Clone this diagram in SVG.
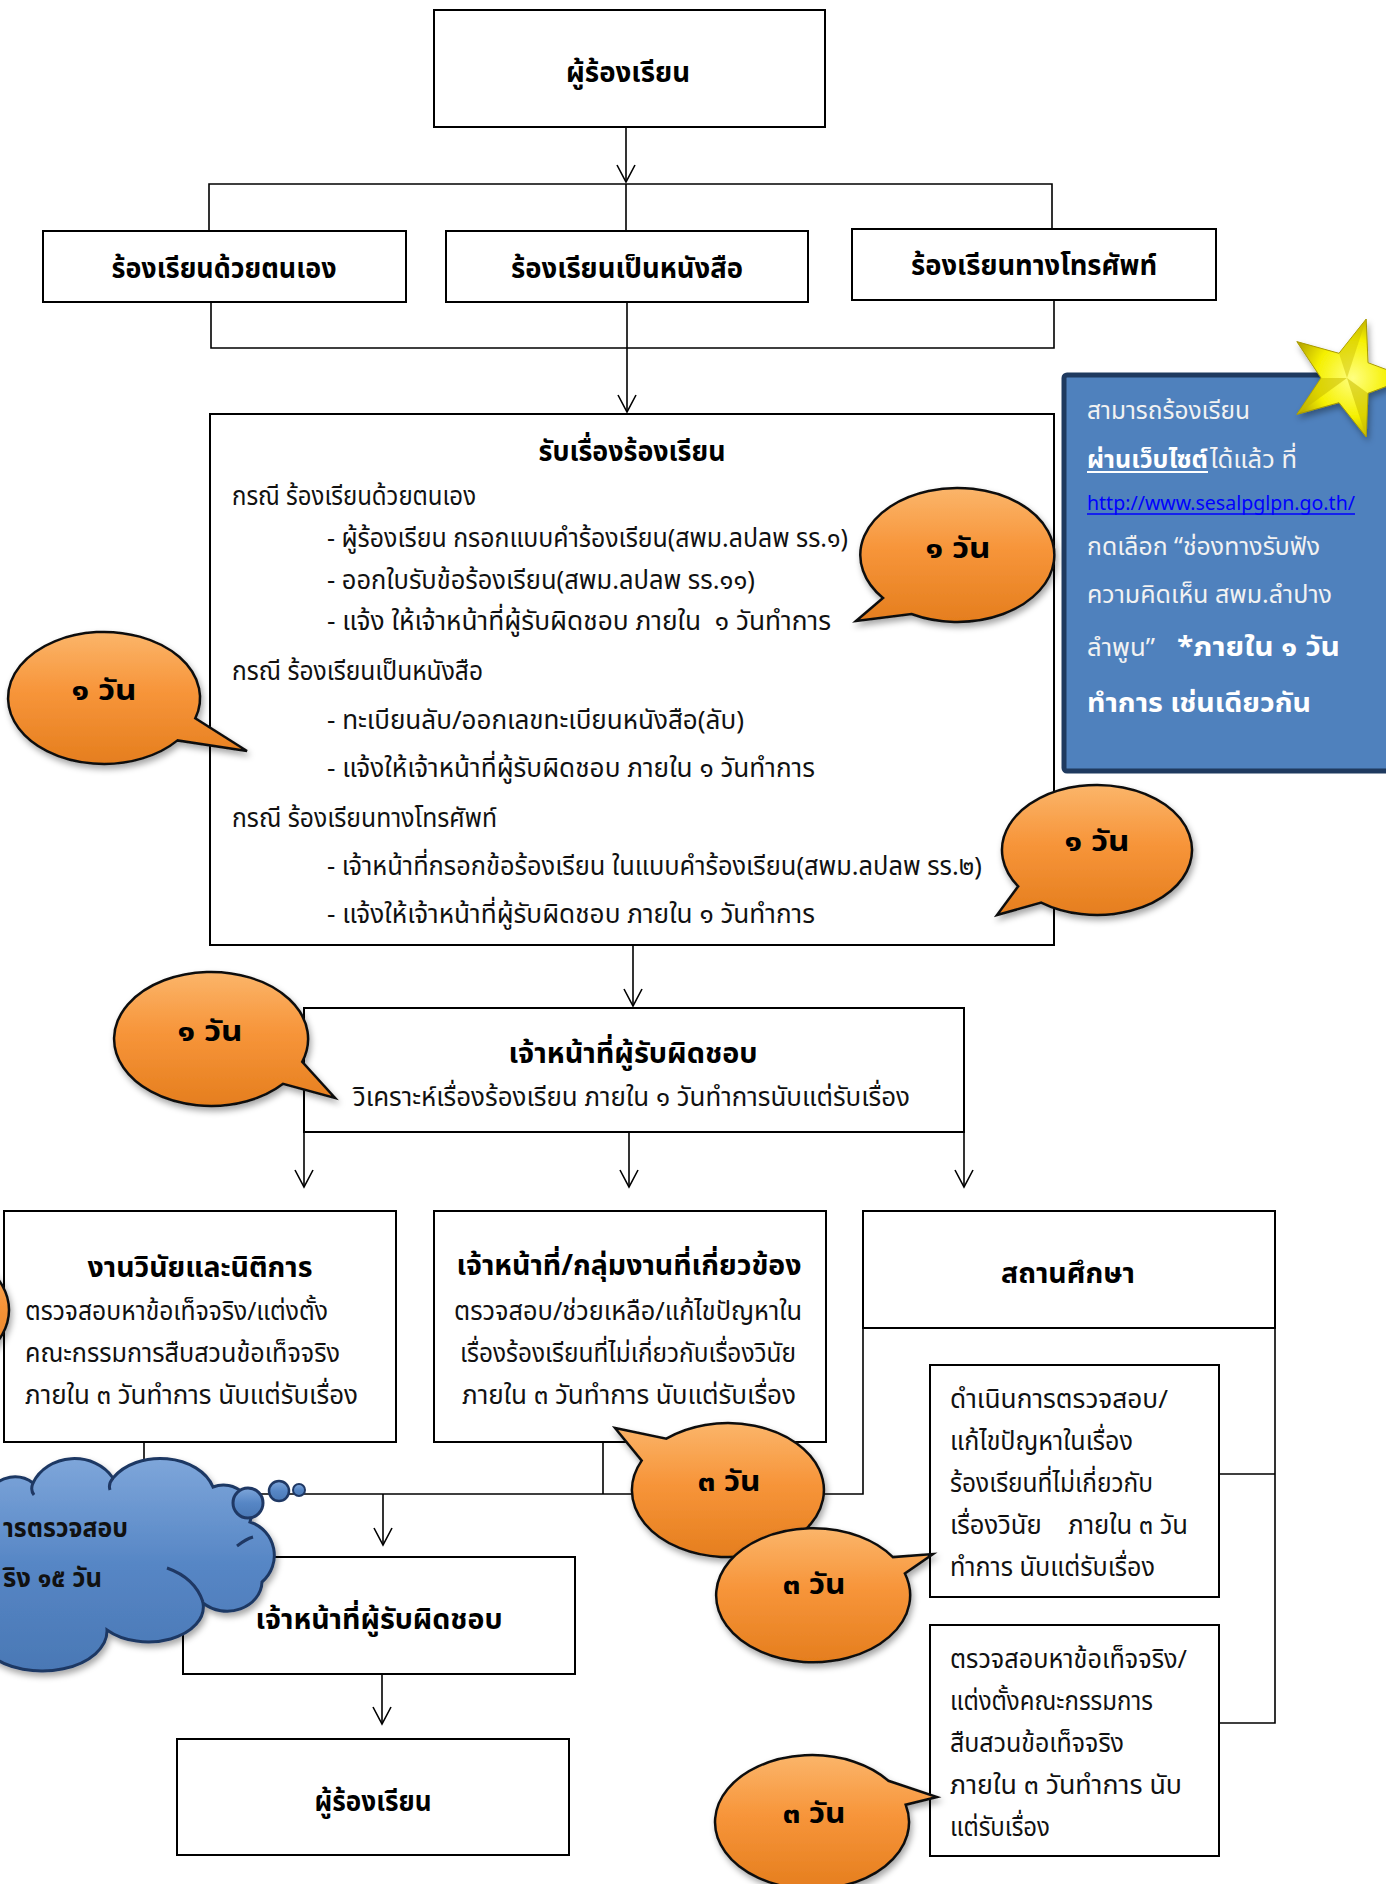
<svg xmlns="http://www.w3.org/2000/svg" width="1386" height="1884" viewBox="0 0 1386 1884">
<defs>
<style>
.bx{fill:#fff;stroke:#000;stroke-width:2}
.ln{fill:none;stroke:#000;stroke-width:1.6}
.ar{fill:none;stroke:#000;stroke-width:1.6;marker-end:url(#v)}
text{font-family:'Noto Sans Thai','Noto Sans','DejaVu Sans',sans-serif;fill:#111}
.h{font-weight:bold;font-size:28px;text-anchor:middle;fill:#000}
.n{font-size:26px}
.c{text-anchor:middle}
.pre{white-space:pre}
.bub{fill:url(#og);stroke:#111;stroke-width:2.5;filter:url(#sh)}
.bt{font-weight:bold;font-size:28px;text-anchor:middle;fill:#000}
.wt{fill:#F2F2F2;font-size:25px}
.wb{fill:#FFFFFF;font-size:27px;font-weight:bold}
</style>
<marker id="v" markerUnits="userSpaceOnUse" markerWidth="22" markerHeight="22" viewBox="0 0 22 22" refX="18" refY="11" orient="auto">
<path d="M1,2 L18,11 L1,20" fill="none" stroke="#000" stroke-width="1.6"/>
</marker>
<linearGradient id="og" x1="0" y1="0" x2="0" y2="1">
<stop offset="0" stop-color="#FBB56A"/>
<stop offset="0.45" stop-color="#F7953A"/>
<stop offset="1" stop-color="#E57E1E"/>
</linearGradient>
<linearGradient id="cg" x1="0" y1="0" x2="0" y2="1">
<stop offset="0" stop-color="#7EA6DA"/>
<stop offset="0.5" stop-color="#5686C5"/>
<stop offset="1" stop-color="#4A78B5"/>
</linearGradient>
<radialGradient id="sg" cx="50%" cy="50%" r="55%">
<stop offset="0" stop-color="#FFFF80"/>
<stop offset="0.6" stop-color="#F5F000"/>
<stop offset="1" stop-color="#B8A800"/>
</radialGradient>
<filter id="sh" x="-20%" y="-20%" width="150%" height="160%">
<feDropShadow dx="2" dy="4" stdDeviation="3" flood-color="#000" flood-opacity="0.35"/>
</filter>
</defs>
<rect width="1386" height="1884" fill="#fff"/>

<g id="connectors">
<path class="ar" d="M626,127 V182"/>
<path class="ln" d="M209,231 V184 H1052 V229 M626,184 V231"/>
<path class="ln" d="M211,302 V348 H1054 V300"/>
<path class="ar" d="M627,302 V412"/>
<path class="ar" d="M633,945 V1006"/>
<path class="ar" d="M304,1131 V1187"/>
<path class="ar" d="M629,1132 V1187"/>
<path class="ar" d="M964,1131 V1187"/>
<path class="ln" d="M144,1442 V1494 H863 V1328 M603,1442 V1494"/>
<path class="ar" d="M383,1494 V1545"/>
<path class="ln" d="M1275,1328 V1723 H1219 M1219,1474 H1275"/>
<path class="ar" d="M382,1674 V1724"/>
</g>

<g id="n-top">
<rect class="bx" x="434" y="10" width="391" height="117"/>
<text class="h" x="628" y="82" textLength="124" lengthAdjust="spacingAndGlyphs">ผู้ร้องเรียน</text>
</g>
<g id="n-self">
<rect class="bx" x="43" y="231" width="363" height="71"/>
<text class="h" x="224" y="278" textLength="225" lengthAdjust="spacingAndGlyphs">ร้องเรียนด้วยตนเอง</text>
</g>
<g id="n-letter">
<rect class="bx" x="446" y="231" width="362" height="71"/>
<text class="h" x="627" y="278" textLength="232" lengthAdjust="spacingAndGlyphs">ร้องเรียนเป็นหนังสือ</text>
</g>
<g id="n-phone">
<rect class="bx" x="852" y="229" width="364" height="71"/>
<text class="h" x="1034" y="275" textLength="246" lengthAdjust="spacingAndGlyphs">ร้องเรียนทางโทรศัพท์</text>
</g>

<g id="n-receive">
<rect class="bx" x="210" y="414" width="844" height="531"/>
<text class="h" x="632" y="461" textLength="187" lengthAdjust="spacingAndGlyphs">รับเรื่องร้องเรียน</text>
<text class="n" x="232" y="505" textLength="244" lengthAdjust="spacingAndGlyphs">กรณี ร้องเรียนด้วยตนเอง</text>
<text class="n" x="327" y="547" textLength="521" lengthAdjust="spacingAndGlyphs">- ผู้ร้องเรียน กรอกแบบคำร้องเรียน(สพม.ลปลพ รร.๑)</text>
<text class="n" x="327" y="589" textLength="428" lengthAdjust="spacingAndGlyphs">- ออกใบรับข้อร้องเรียน(สพม.ลปลพ รร.๑๑)</text>
<text class="n pre" x="327" y="630" textLength="504" lengthAdjust="spacingAndGlyphs">- แจ้ง ให้เจ้าหน้าที่ผู้รับผิดชอบ ภายใน  ๑ วันทำการ</text>
<text class="n" x="232" y="680" textLength="251" lengthAdjust="spacingAndGlyphs">กรณี ร้องเรียนเป็นหนังสือ</text>
<text class="n" x="327" y="729" textLength="417" lengthAdjust="spacingAndGlyphs">- ทะเบียนลับ/ออกเลขทะเบียนหนังสือ(ลับ)</text>
<text class="n" x="327" y="777" textLength="488" lengthAdjust="spacingAndGlyphs">- แจ้งให้เจ้าหน้าที่ผู้รับผิดชอบ ภายใน ๑ วันทำการ</text>
<text class="n" x="232" y="827" textLength="265" lengthAdjust="spacingAndGlyphs">กรณี ร้องเรียนทางโทรศัพท์</text>
<text class="n" x="327" y="875" textLength="655" lengthAdjust="spacingAndGlyphs">- เจ้าหน้าที่กรอกข้อร้องเรียน ในแบบคำร้องเรียน(สพม.ลปลพ รร.๒)</text>
<text class="n" x="327" y="923" textLength="488" lengthAdjust="spacingAndGlyphs">- แจ้งให้เจ้าหน้าที่ผู้รับผิดชอบ ภายใน ๑ วันทำการ</text>
</g>

<g id="n-officer">
<rect class="bx" x="304" y="1008" width="660" height="124"/>
<text class="h" x="633" y="1063" textLength="249" lengthAdjust="spacingAndGlyphs">เจ้าหน้าที่ผู้รับผิดชอบ</text>
<text class="n" x="353" y="1106" textLength="557" lengthAdjust="spacingAndGlyphs">วิเคราะห์เรื่องร้องเรียน ภายใน ๑ วันทำการนับแต่รับเรื่อง</text>
</g>

<g id="n-legal">
<rect class="bx" x="4" y="1211" width="392" height="231"/>
<text class="h" x="200" y="1277" textLength="225" lengthAdjust="spacingAndGlyphs">งานวินัยและนิติการ</text>
<text class="n" x="25" y="1320" textLength="303" lengthAdjust="spacingAndGlyphs">ตรวจสอบหาข้อเท็จจริง/แต่งตั้ง</text>
<text class="n" x="25" y="1362" textLength="315" lengthAdjust="spacingAndGlyphs">คณะกรรมการสืบสวนข้อเท็จจริง</text>
<text class="n" x="25" y="1404" textLength="333" lengthAdjust="spacingAndGlyphs">ภายใน ๓ วันทำการ นับแต่รับเรื่อง</text>
</g>

<g id="n-group">
<rect class="bx" x="434" y="1211" width="392" height="231"/>
<text class="h" x="629" y="1275" textLength="345" lengthAdjust="spacingAndGlyphs">เจ้าหน้าที่/กลุ่มงานที่เกี่ยวข้อง</text>
<text class="n c" x="628" y="1320" textLength="348" lengthAdjust="spacingAndGlyphs">ตรวจสอบ/ช่วยเหลือ/แก้ไขปัญหาใน</text>
<text class="n c" x="628" y="1362" textLength="336" lengthAdjust="spacingAndGlyphs">เรื่องร้องเรียนที่ไม่เกี่ยวกับเรื่องวินัย</text>
<text class="n c" x="629" y="1404" textLength="334" lengthAdjust="spacingAndGlyphs">ภายใน ๓ วันทำการ นับแต่รับเรื่อง</text>
</g>

<g id="n-school">
<rect class="bx" x="863" y="1211" width="412" height="117"/>
<text class="h" x="1068" y="1283" textLength="134" lengthAdjust="spacingAndGlyphs">สถานศึกษา</text>
</g>

<g id="n-school-fix">
<rect class="bx" x="930" y="1365" width="289" height="232"/>
<text class="n" x="950" y="1408" textLength="218" lengthAdjust="spacingAndGlyphs">ดำเนินการตรวจสอบ/</text>
<text class="n" x="950" y="1450" textLength="183" lengthAdjust="spacingAndGlyphs">แก้ไขปัญหาในเรื่อง</text>
<text class="n" x="950" y="1492" textLength="203" lengthAdjust="spacingAndGlyphs">ร้องเรียนที่ไม่เกี่ยวกับ</text>
<text class="n pre" x="950" y="1534" textLength="238" lengthAdjust="spacingAndGlyphs">เรื่องวินัย    ภายใน ๓ วัน</text>
<text class="n" x="950" y="1576" textLength="205" lengthAdjust="spacingAndGlyphs">ทำการ นับแต่รับเรื่อง</text>
</g>

<g id="n-school-fact">
<rect class="bx" x="930" y="1625" width="289" height="231"/>
<text class="n" x="950" y="1668" textLength="237" lengthAdjust="spacingAndGlyphs">ตรวจสอบหาข้อเท็จจริง/</text>
<text class="n" x="950" y="1710" textLength="203" lengthAdjust="spacingAndGlyphs">แต่งตั้งคณะกรรมการ</text>
<text class="n" x="950" y="1752" textLength="174" lengthAdjust="spacingAndGlyphs">สืบสวนข้อเท็จจริง</text>
<text class="n" x="950" y="1794" textLength="232" lengthAdjust="spacingAndGlyphs">ภายใน ๓ วันทำการ นับ</text>
<text class="n" x="950" y="1836" textLength="100" lengthAdjust="spacingAndGlyphs">แต่รับเรื่อง</text>
</g>

<g id="n-officer2">
<rect class="bx" x="183" y="1557" width="392" height="117"/>
<text class="h" x="379" y="1629" textLength="247" lengthAdjust="spacingAndGlyphs">เจ้าหน้าที่ผู้รับผิดชอบ</text>
</g>

<g id="n-complainant">
<rect class="bx" x="177" y="1739" width="392" height="116"/>
<text class="h" x="373" y="1811" textLength="117" lengthAdjust="spacingAndGlyphs">ผู้ร้องเรียน</text>
</g>

<g id="cloud">
<path d="M-10,1490 A30,30 0 0 1 33,1483 A45,40 0 0 1 113,1478 A55,40 0 0 1 213,1487 A28,28 0 0 1 250,1522 A35,35 0 0 1 262,1582 A35,30 0 0 1 203,1603 A55,35 0 0 1 107,1630 A65,40 0 0 1 -10,1655 Z" fill="url(#cg)" stroke="#1F3864" stroke-width="3" filter="url(#sh)"/>
<path d="M167,1568 Q195,1578 203,1602 M237,1546 Q246,1539 253,1537 M33,1483 Q30,1490 34,1495 M113,1478 Q108,1484 110,1490" fill="none" stroke="#1F3864" stroke-width="3"/>
<circle cx="248" cy="1503" r="15" fill="url(#cg)" stroke="#1F3864" stroke-width="3"/>
<circle cx="279" cy="1491" r="10" fill="url(#cg)" stroke="#1F3864" stroke-width="2.5"/>
<circle cx="299" cy="1490" r="6" fill="url(#cg)" stroke="#1F3864" stroke-width="2"/>
<text x="3" y="1537" font-size="26" font-weight="bold" fill="#000" textLength="125" lengthAdjust="spacingAndGlyphs">ารตรวจสอบ</text>
<text x="3" y="1587" font-size="26" font-weight="bold" fill="#000" textLength="99" lengthAdjust="spacingAndGlyphs">ริง ๑๕ วัน</text>
</g>

<g id="b-edge">
<ellipse class="bub" cx="-88" cy="1310" rx="97" ry="67"/>
</g>
<g id="b1">
<path class="bub" d="M883,598 A97,67 0 1 1 911.5,614 L856,621 Z"/>
<text class="bt" x="958" y="558" textLength="65" lengthAdjust="spacingAndGlyphs">๑ วัน</text>
</g>
<g id="b2">
<path class="bub" d="M177.5,740.4 A96,66 0 1 1 195.3,718.4 L247,751 Z"/>
<text class="bt" x="104" y="700" textLength="65" lengthAdjust="spacingAndGlyphs">๑ วัน</text>
</g>
<g id="b3">
<path class="bub" d="M1018.2,886.3 A95,65 0 1 1 1041.2,902.6 L997,915 Z"/>
<text class="bt" x="1097" y="851" textLength="65" lengthAdjust="spacingAndGlyphs">๑ วัน</text>
</g>
<g id="b4">
<path class="bub" d="M283.1,1083.8 A97,67 0 1 1 302.2,1061.9 L335,1098 Z"/>
<text class="bt" x="210" y="1041" textLength="65" lengthAdjust="spacingAndGlyphs">๑ วัน</text>
</g>
<g id="b5">
<path class="bub" d="M666.3,1438.7 A96,67 0 1 1 641.7,1460.6 L615,1428 Z"/>
<text class="bt" x="729" y="1491" textLength="63" lengthAdjust="spacingAndGlyphs">๓ วัน</text>
</g>
<g id="b6">
<path class="bub" d="M904.9,1573.5 A97,67 0 1 1 892.9,1557.1 L933,1554 Z"/>
<text class="bt" x="814" y="1594" textLength="63" lengthAdjust="spacingAndGlyphs">๓ วัน</text>
</g>
<g id="b7">
<path class="bub" d="M905.7,1804.7 A97,67 0 1 1 888.4,1780.8 L937,1797 Z"/>
<text class="bt" x="814" y="1823" textLength="63" lengthAdjust="spacingAndGlyphs">๓ วัน</text>
</g>

<g id="info">
<rect x="1064" y="375" width="330" height="396" rx="3" fill="#4F81BD" stroke="#1F3A5F" stroke-width="5"/>
<text class="wt" x="1087" y="419" textLength="163" lengthAdjust="spacingAndGlyphs">สามารถร้องเรียน</text>
<text class="wb" x="1087" y="468" textLength="121" lengthAdjust="spacingAndGlyphs" style="font-size:25px">ผ่านเว็บไซต์</text>
<line x1="1087" y1="472" x2="1208" y2="472" stroke="#fff" stroke-width="2"/>
<text class="wt" x="1210" y="468" textLength="87" lengthAdjust="spacingAndGlyphs">ได้แล้ว ที่</text>
<text x="1087" y="510" font-size="20" style="fill:#0000FF" textLength="268" lengthAdjust="spacingAndGlyphs">http://www.sesalpglpn.go.th/</text>
<line x1="1087" y1="514" x2="1355" y2="514" stroke="#0000FF" stroke-width="1.5"/>
<text class="wt" x="1087" y="555" textLength="233" lengthAdjust="spacingAndGlyphs">กดเลือก “ช่องทางรับฟัง</text>
<text class="wt" x="1087" y="603" textLength="245" lengthAdjust="spacingAndGlyphs">ความคิดเห็น สพม.ลำปาง</text>
<text class="wt" x="1087" y="656" textLength="68" lengthAdjust="spacingAndGlyphs">ลำพูน”</text>
<text class="wb" x="1177" y="656" textLength="163" lengthAdjust="spacingAndGlyphs">*ภายใน ๑ วัน</text>
<text class="wb" x="1087" y="712" textLength="224" lengthAdjust="spacingAndGlyphs">ทำการ เช่นเดียวกัน</text>
</g>

<g id="star">
<polygon points="1409,378 1368,393.3 1366.2,437 1339,402.7 1296.8,414.4 1321,378 1296.8,341.6 1339,353.3 1366.2,319 1368,362.7" fill="url(#sg)" stroke="#A89A00" stroke-width="1" filter="url(#sh)"/>
<polygon points="1347,378 1368,393.3 1366.2,437" fill="#C9BC00" opacity="0.55"/>
<polygon points="1347,378 1296.8,414.4 1321,378" fill="#C9BC00" opacity="0.55"/>
<polygon points="1347,378 1339,353.3 1366.2,319" fill="#C9BC00" opacity="0.45"/>
</g>
</svg>
